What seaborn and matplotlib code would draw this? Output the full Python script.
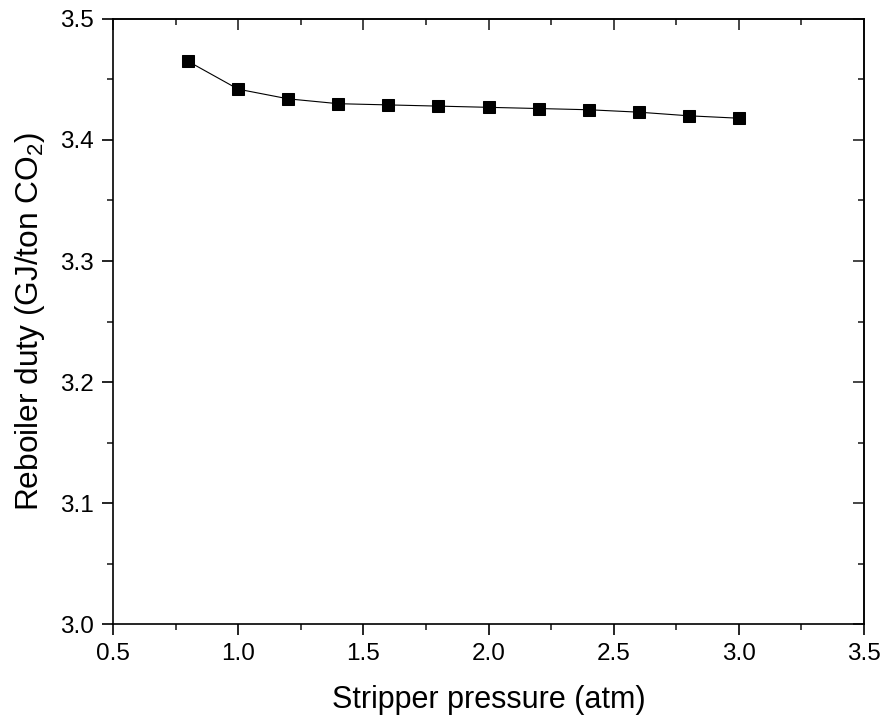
import numpy as np
import pandas as pd
import matplotlib
matplotlib.use("Agg")
import matplotlib.pyplot as plt
import seaborn as sns
from matplotlib.ticker import MultipleLocator, FormatStrFormatter

pressure = [0.8, 1.0, 1.2, 1.4, 1.6, 1.8, 2.0, 2.2, 2.4, 2.6, 2.8, 3.0]
duty = [3.465, 3.442, 3.434, 3.430, 3.429, 3.428, 3.427, 3.426, 3.425, 3.423, 3.420, 3.418]
xlabel = "Stripper pressure (atm)"
ylabel = "Reboiler duty (GJ/ton CO$_2$)"

sns.set_style("ticks")
plt.rcParams["font.family"] = ["Liberation Sans", "DejaVu Sans"]
plt.rcParams["mathtext.fontset"] = "custom"
plt.rcParams["mathtext.rm"] = "Liberation Sans"
plt.rcParams["mathtext.it"] = "Liberation Sans:italic"
plt.rcParams["text.color"] = "black"
plt.rcParams["axes.labelcolor"] = "black"

df = pd.DataFrame({"p": pressure, "d": duty})

fig = plt.figure(figsize=(8.85, 7.25), dpi=100)
ax = fig.add_axes([0.1277, 0.1393, 0.9763 - 0.1277, 0.9738 - 0.1393])

sns.lineplot(data=df, x="p", y="d", ax=ax, color="black", linewidth=0.8,
             marker="s", markersize=9.2, markeredgecolor="black",
             markerfacecolor="black")

ax.set_xlim(0.5, 3.5)
ax.set_ylim(3.0, 3.5)
ax.xaxis.set_major_locator(MultipleLocator(0.5))
ax.xaxis.set_minor_locator(MultipleLocator(0.25))
ax.yaxis.set_major_locator(MultipleLocator(0.1))
ax.yaxis.set_minor_locator(MultipleLocator(0.05))
ax.xaxis.set_major_formatter(FormatStrFormatter("%.1f"))
ax.yaxis.set_major_formatter(FormatStrFormatter("%.1f"))

for s in ax.spines.values():
    s.set_visible(True)
    s.set_linewidth(1.2)
    s.set_color("black")

ax.tick_params(which="major", direction="out", length=8, width=1.2,
               labelsize=17.5, colors="black", pad=6)
ax.tick_params(which="minor", direction="out", length=4.5, width=1.2)

secx = ax.secondary_xaxis("top")
secx.xaxis.set_major_locator(MultipleLocator(0.5))
secx.xaxis.set_minor_locator(MultipleLocator(0.25))
secx.tick_params(which="major", direction="in", length=8, width=1.2, labeltop=False)
secx.tick_params(which="minor", direction="in", length=4.5, width=1.2)
secx.spines["top"].set_linewidth(1.2)

secy = ax.secondary_yaxis("right")
secy.yaxis.set_major_locator(MultipleLocator(0.1))
secy.yaxis.set_minor_locator(MultipleLocator(0.05))
secy.tick_params(which="major", direction="in", length=8, width=1.2, labelright=False)
secy.tick_params(which="minor", direction="in", length=4.5, width=1.2)
secy.spines["right"].set_linewidth(1.2)

ax.set_xlabel(xlabel, fontsize=22, labelpad=14)
ax.set_ylabel(ylabel, fontsize=22.8, labelpad=9)

fig.savefig("out.png", dpi=100)
